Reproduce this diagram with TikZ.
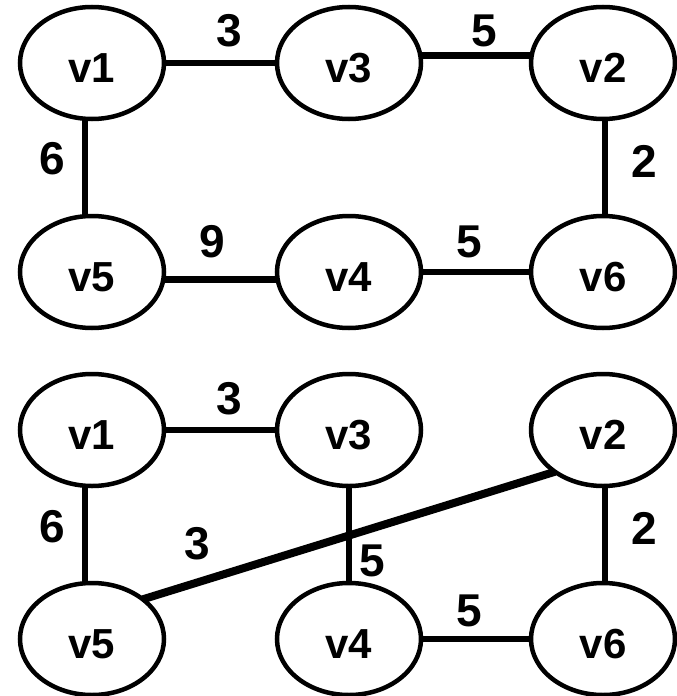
\documentclass[tikz,border=0pt]{standalone}
\usepackage{fontspec}
\setmainfont{Liberation Sans}
\usetikzlibrary{shapes.geometric}
\begin{document}
\begin{tikzpicture}[x=1pt,y=-1pt,
  vertex/.style={ellipse,draw,line width=4.5pt,minimum width=144pt,minimum height=112pt,
    inner sep=0pt,outer sep=0pt,text height=38pt,text depth=0pt,
    font=\fontsize{42}{42}\selectfont\bfseries},
  edge/.style={line width=6.5pt},
  thickedge/.style={line width=8pt},
  wlabel/.style={font=\fontsize{46}{46}\selectfont\bfseries,inner sep=0pt}]
\useasboundingbox (0,0) rectangle (677,696);
% top graph
\node[vertex] (a1) at (92,63) {v1};
\node[vertex] (a3) at (349,63) {v3};
\node[vertex] (a2) at (603,63) {v2};
\node[vertex] (a5) at (92,272) {v5};
\node[vertex] (a4) at (349,272) {v4};
\node[vertex] (a6) at (603,272) {v6};
\draw[edge] (a1.east) -- (a3.west);
\draw[edge] (a3.6) -- (a2.174);
\draw[edge] (a1.263) -- (a5.97);
\draw[edge] (a2.272) -- (a6.88);
\draw[edge] (a5.-6) -- (a4.186);
\draw[edge] (a4.east) -- (a6.west);
\node[wlabel] (la13) at (229,31) {3};
\node[wlabel] (la32) at (484,31) {5};
\node[wlabel] (la15) at (52,159) {6};
\node[wlabel] (la26) at (644,161) {2};
\node[wlabel] (la54) at (212,242) {9};
\node[wlabel] (la46) at (469,242) {5};
% bottom graph
\node[vertex] (b1) at (92,430) {v1};
\node[vertex] (b3) at (349,430) {v3};
\node[vertex] (b2) at (603,430) {v2};
\node[vertex] (b5) at (92,639) {v5};
\node[vertex] (b4) at (349,639) {v4};
\node[vertex] (b6) at (603,639) {v6};
\draw[edge] (b1.east) -- (b3.west);
\draw[edge] (b1.263) -- (b5.97);
\draw[edge] (b3.south) -- (b4.north);
\draw[edge] (b2.272) -- (b6.88);
\draw[edge] (b4.east) -- (b6.west);
\draw[thickedge] (b5.38) -- (b2.221);
\node[wlabel] (lb13) at (229,399) {3};
\node[wlabel] (lb15) at (52,527) {6};
\node[wlabel] (lb52) at (197,544) {3};
\node[wlabel] (lb34) at (372,561) {5};
\node[wlabel] (lb26) at (644,528) {2};
\node[wlabel] (lb46) at (469,611) {5};
\end{tikzpicture}
\end{document}
